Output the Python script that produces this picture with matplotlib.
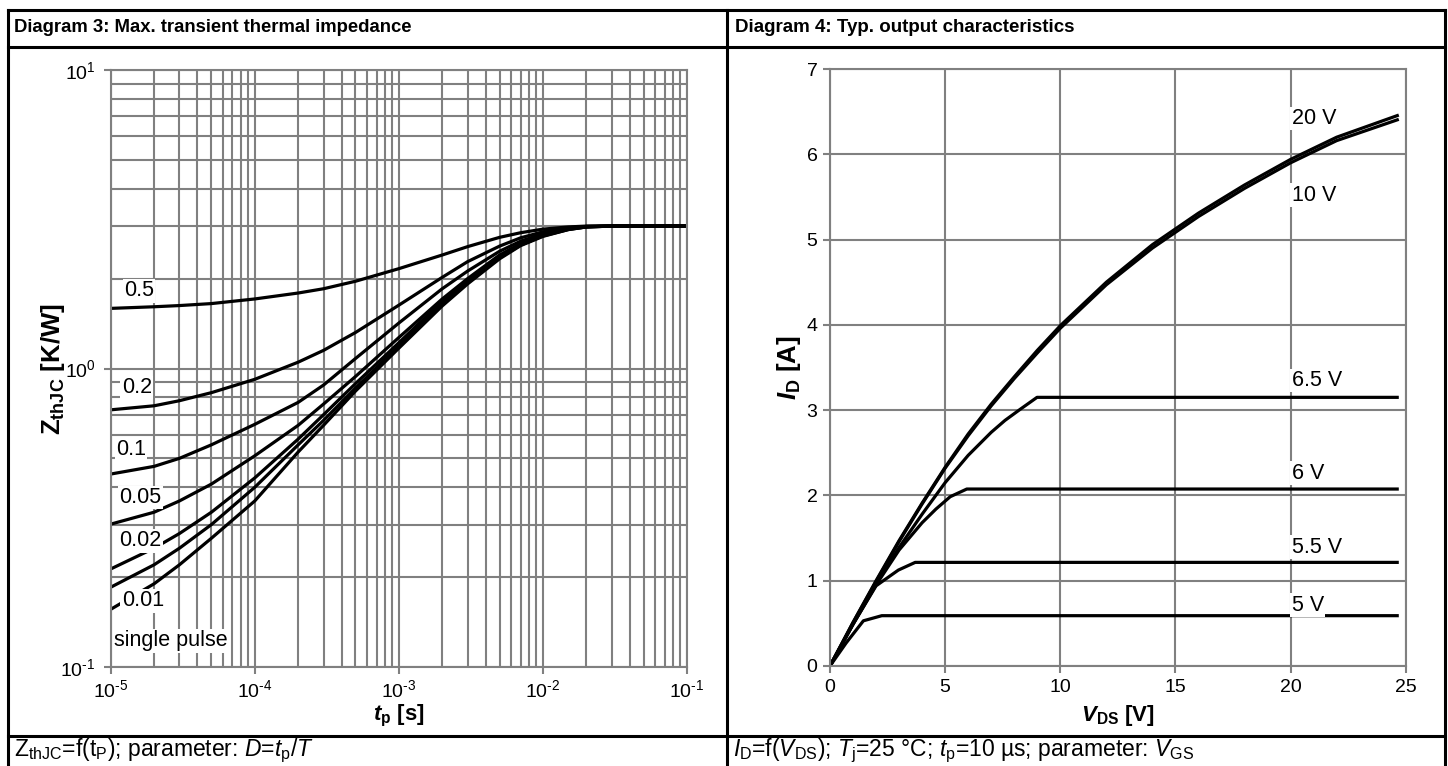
import matplotlib
matplotlib.use("Agg")
import math
import matplotlib.pyplot as plt
from matplotlib.lines import Line2D
from matplotlib.ticker import NullFormatter, FixedLocator, FuncFormatter

plt.rcParams['font.family'] = ['Liberation Sans', 'DejaVu Sans']
plt.rcParams['mathtext.fontset'] = 'custom'
plt.rcParams['mathtext.rm'] = 'Liberation Sans'
plt.rcParams['mathtext.it'] = 'Liberation Sans:italic'
plt.rcParams['mathtext.bf'] = 'Liberation Sans:bold'
plt.rcParams['mathtext.bfit'] = 'Liberation Sans:italic:bold'
plt.rcParams['mathtext.sf'] = 'Liberation Sans'
plt.rcParams['axes.unicode_minus'] = False

# ---------------- Diagram 3 data: Zth vs tp ----------------
tp = [1e-5, 2e-5, 3e-5, 5e-5, 1e-4, 2e-4, 3e-4, 5e-4, 1e-3, 2e-3, 3e-3,
      5e-3, 7e-3, 1e-2, 1.5e-2, 2e-2, 3e-2, 5e-2, 1e-1]
z_05 = [1.59, 1.61, 1.625, 1.65, 1.71, 1.79, 1.85, 1.96, 2.16, 2.40, 2.56,
        2.75, 2.85, 2.93, 2.98, 3.0, 3.0, 3.0, 3.0]
z_02 = [0.727, 0.75, 0.78, 0.83, 0.92, 1.05, 1.15, 1.32, 1.63, 2.02, 2.28,
        2.57, 2.74, 2.87, 2.96, 2.99, 3.0, 3.0, 3.0]
z_01 = [0.443, 0.47, 0.50, 0.555, 0.65, 0.77, 0.88, 1.08, 1.42, 1.85, 2.12,
        2.47, 2.67, 2.83, 2.95, 2.99, 3.0, 3.0, 3.0]
z_005 = [0.301, 0.33, 0.36, 0.41, 0.51, 0.645, 0.76, 0.94, 1.27, 1.71, 2.00,
         2.40, 2.62, 2.80, 2.94, 2.99, 3.0, 3.0, 3.0]
z_002 = [0.213, 0.25, 0.28, 0.33, 0.43, 0.58, 0.70, 0.89, 1.22, 1.68, 1.97,
         2.37, 2.60, 2.79, 2.93, 2.98, 3.0, 3.0, 3.0]
z_001 = [0.185, 0.22, 0.25, 0.30, 0.40, 0.555, 0.67, 0.86, 1.19, 1.65, 1.94,
         2.35, 2.59, 2.78, 2.92, 2.98, 3.0, 3.0, 3.0]
z_single = [0.156, 0.19, 0.22, 0.27, 0.36, 0.525, 0.645, 0.84, 1.17, 1.62, 1.92,
            2.33, 2.58, 2.77, 2.92, 2.98, 3.0, 3.0, 3.0]
zth_series = [z_05, z_02, z_01, z_005, z_002, z_001, z_single]
zth_labels = ["0.5", "0.2", "0.1", "0.05", "0.02", "0.01", "single pulse"]
zth_label_pos = [(1.237e-5, 1.82), (1.192e-5, 0.864), (1.088e-5, 0.537),
                 (1.147e-5, 0.370), (1.147e-5, 0.2645), (1.192e-5, 0.1665),
                 (1.054e-5, 0.1223)]

# ---------------- Diagram 4 data: ID vs VDS ----------------
v_main = [0, 1, 2, 3, 4, 5, 6, 7, 8, 9, 10, 12, 14, 16, 18, 20, 22, 24.7]
i_20v = [0, 0.51, 1.0, 1.47, 1.91, 2.33, 2.72, 3.07, 3.39, 3.70, 3.99, 4.50,
         4.94, 5.31, 5.64, 5.94, 6.20, 6.46]
i_10v = [0, 0.51, 0.99, 1.46, 1.90, 2.32, 2.70, 3.05, 3.37, 3.67, 3.96, 4.47,
         4.90, 5.27, 5.60, 5.90, 6.16, 6.41]
v_65 = [0, 1, 2, 3, 4, 5, 6, 7, 7.6, 8.26, 8.99, 24.7]
i_65 = [0, 0.49, 0.96, 1.39, 1.78, 2.15, 2.47, 2.74, 2.88, 3.01, 3.15, 3.15]
v_6 = [0, 1, 2, 3, 4, 4.6, 5.22, 5.94, 24.7]
i_6 = [0, 0.49, 0.95, 1.36, 1.68, 1.84, 1.985, 2.075, 2.075]
v_55 = [0, 1, 2.0, 2.97, 3.7, 24.7]
i_55 = [0, 0.49, 0.94, 1.125, 1.215, 1.215]
v_5 = [0, 0.7, 1.45, 2.25, 24.7]
i_5 = [0, 0.27, 0.53, 0.59, 0.59]
out_series = [(v_main, i_20v), (v_main, i_10v), (v_65, i_65), (v_6, i_6),
              (v_55, i_55), (v_5, i_5)]
out_labels = ["20 V", "10 V", "6.5 V", "6 V", "5.5 V", "5 V"]
out_label_pos = [(20.05, 6.42), (20.05, 5.52), (20.05, 3.35), (20.05, 2.26),
                 (20.05, 1.395), (20.05, 0.715)]

W, H = 1448, 766
fig = plt.figure(figsize=(W / 100, H / 100), dpi=100)


def fx(x):
    return x / W


def fy(y):
    return 1 - y / H


def pow10_fmt(val, pos):
    e = int(round(math.log10(val)))
    if e < 0:
        return r"$\mathregular{10^{\text{-}%d}}$" % (-e)
    return r"$\mathregular{10^{%d}}$" % e


# frame
frame_kw = dict(color='black', lw=2.2, transform=fig.transFigure)
for (x0, y0, x1, y1) in [(8, 10, 1445, 10), (8, 47, 1445, 47), (8, 735.5, 1445, 735.5),
                         (8, 10, 8, 766), (726.5, 10, 726.5, 766), (1445, 10, 1445, 766)]:
    fig.add_artist(Line2D([fx(x0), fx(x1)], [fy(y0), fy(y1)], **frame_kw))

grid_c = '#808080'
TICK_FS = 14
LBL_FS = 15.5
AXL_FS = 16
YL_FS = 18.5
CAP_FS = 16.5

# ---------- left axes ----------
ax1 = fig.add_axes([fx(110.7), fy(667), fx(687) - fx(110.7), fy(70) - fy(667)])
ax1.set_xscale('log')
ax1.set_yscale('log')
ax1.set_xlim(1e-5, 1e-1)
ax1.set_ylim(1e-1, 1e1)
ax1.set_axisbelow(True)
ax1.grid(which='both', color=grid_c, lw=1.5)
ax1.xaxis.set_major_formatter(FuncFormatter(pow10_fmt))
ax1.yaxis.set_major_formatter(FuncFormatter(pow10_fmt))
ax1.yaxis.set_minor_formatter(NullFormatter())
ax1.xaxis.set_minor_formatter(NullFormatter())
ax1.tick_params(which='major', length=5, width=1.5, color=grid_c, labelsize=TICK_FS, pad=4)
ax1.tick_params(axis='y', which='major', pad=6)
ax1.tick_params(which='minor', length=0)
for s in ax1.spines.values():
    s.set_color(grid_c)
    s.set_linewidth(1.5)
for z in zth_series:
    ax1.plot(tp, z, color='black', lw=2.3, solid_capstyle='butt')
for lab, (x, y) in zip(zth_labels, zth_label_pos):
    ax1.text(x, y, lab, fontsize=LBL_FS, ha='left', va='center',
             bbox=dict(facecolor='white', edgecolor='none', pad=1.0), zorder=5)

# ---------- right axes ----------
ax2 = fig.add_axes([fx(830), fy(666), fx(1405.7) - fx(830), fy(69) - fy(666)])
ax2.set_xlim(0, 25)
ax2.set_ylim(0, 7)
ax2.xaxis.set_major_locator(FixedLocator([0, 5, 10, 15, 20, 25]))
ax2.yaxis.set_major_locator(FixedLocator([0, 1, 2, 3, 4, 5, 6, 7]))
ax2.set_axisbelow(True)
ax2.grid(which='major', color=grid_c, lw=1.5)
ax2.tick_params(which='major', length=5, width=1.5, color=grid_c, labelsize=TICK_FS, pad=4)
for s in ax2.spines.values():
    s.set_color(grid_c)
    s.set_linewidth(1.5)
for v, i in out_series:
    ax2.plot(v, i, color='black', lw=2.3, solid_capstyle='butt')
for lab, (x, y) in zip(out_labels, out_label_pos):
    ax2.text(x, y, lab, fontsize=LBL_FS, ha='left', va='center',
             bbox=dict(facecolor='white', edgecolor='none', pad=1.0), zorder=5)

# ---------- titles, axis labels, captions ----------
fig.text(fx(14), fy(28), "Diagram 3: Max. transient thermal impedance",
         fontsize=13.3, fontweight='bold', ha='left', va='center')
fig.text(fx(735), fy(28), "Diagram 4: Typ. output characteristics",
         fontsize=13.5, fontweight='bold', ha='left', va='center')

fig.text(fx(53), fy(369), r"$\mathbf{Z_{thJC}}$ [K/W]", fontsize=YL_FS,
         fontweight='bold', rotation=90, ha='center', va='center')
fig.text(fx(399), fy(716), r"$\mathbfit{t}_{\mathbf{p}}$ [s]", fontsize=AXL_FS,
         fontweight='bold', ha='center', va='center')
fig.text(fx(789), fy(368), r"$\mathbfit{I}_{\mathbf{D}}$ [A]", fontsize=YL_FS,
         fontweight='bold', rotation=90, ha='center', va='center')
fig.text(fx(1118), fy(716), r"$\mathbfit{V}_{\mathbf{DS}}$ [V]", fontsize=AXL_FS,
         fontweight='bold', ha='center', va='center')

fig.text(fx(14), fy(751),
         r"$\mathrm{Z_{thJC}}$=f($\mathrm{t_{P}}$); parameter: $D$=$t_{\mathrm{p}}$/$T$",
         fontsize=CAP_FS, ha='left', va='center')
fig.text(fx(733), fy(751),
         r"$I_{\mathrm{D}}$=f($V_{\mathrm{DS}}$); $T_{\mathrm{j}}$=25 °C; $t_{\mathrm{p}}$=10 µs; parameter: $V_{\mathrm{GS}}$",
         fontsize=CAP_FS, ha='left', va='center')

fig.savefig("out.png", dpi=100)
